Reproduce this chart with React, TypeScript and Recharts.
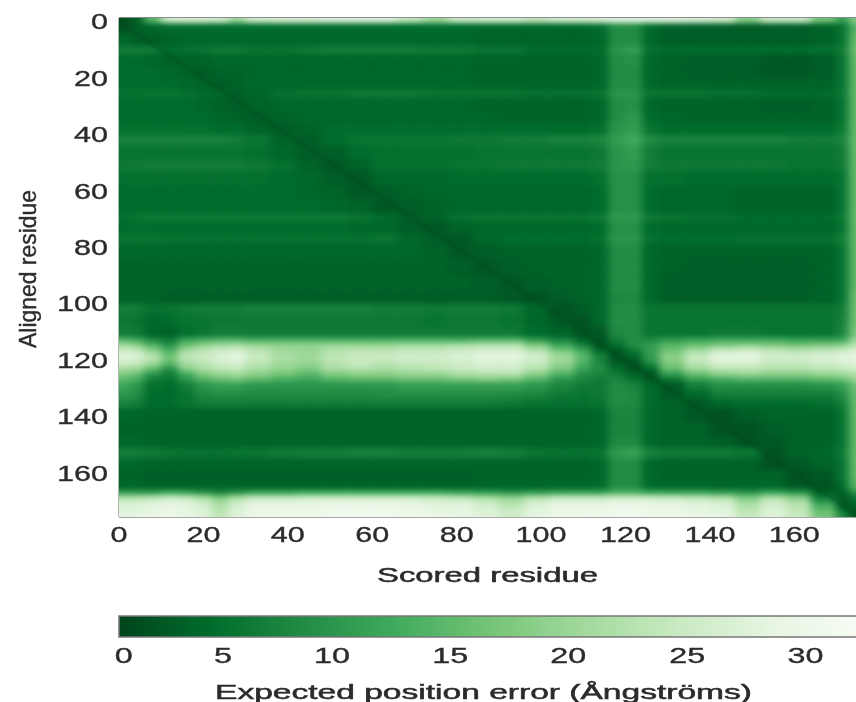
import React from "react";
import {
  ScatterChart, Scatter, XAxis, YAxis, ReferenceLine, Label,
  BarChart, Bar,
} from "recharts";

const xTicks = [0, 20, 40, 60, 80, 100, 120, 140, 160];
const yTicks = [0, 20, 40, 60, 80, 100, 120, 140, 160];
const xDomain = [0, 174.6];
const yDomain = [-1.4, 175.6];

const colEdges = [0, 3, 6, 10, 14, 18, 22, 26, 30, 36, 42, 48, 54, 60, 66, 72, 78, 84, 90, 96, 102, 108, 112, 116, 120, 124, 128, 134, 140, 146, 152, 158, 164, 170, 173, 174.6];
const rowEdges = [-1.4, 0.5, 4, 8.5, 11.5, 16, 20, 24, 27, 32, 36, 40, 44, 49, 53, 58, 63, 68, 71, 75, 79, 84, 90, 96, 100, 104, 108, 112, 114, 116, 118, 120, 122, 124, 126, 128, 131, 134, 137, 142, 147, 151, 155, 159, 163, 166, 168, 170, 172, 174, 175.6];

// expected position error, one line per row band
const paeRows = [
  [1,3,14,26,27, 27,26,20,26,27, 27,28,28,28,24, 20,25,26,26,24, 26,26,27,28,28, 28,28,27,26,18, 25,25,16,10,18],
  [1.5,2.5,3.5,4,4, 4,4,4,4,4, 4,4,4,4,4, 4,4,3.5,3.5,3.5, 3.5,3.5,4,8,8, 4,3,2.5,2.5,2.5, 2.5,2.5,3,5,14],
  [3.5,2.5,2.5,3,3.5, 3.5,3.5,3.5,3.5,3.5, 3.5,3.5,3.5,3.5,3.5, 3.5,3.5,3,3,3, 3,3,3.5,8,8, 3.5,2.5,2.5,2.5,2.5, 2.5,2.5,3,5,15],
  [6,6,5.5,4,4.5, 5,5.5,5.5,5,5, 5.5,6,6,6,6, 5.5,5.5,5,5,4, 4,4,4,9,10, 4.5,4,4,4,4, 4,4,4.5,6,16],
  [4,4,3.5,3,3, 3,3.5,3.5,3.5,3.5, 3.5,3.5,3.5,3.5,3.5, 3.5,3.5,3,3,3, 3,3,3.5,8,8.5, 3.5,3,2.5,2.5,2.5, 2,2,2.5,5,15],
  [4,4,4,3.5,3, 2.5,3,3,3.5,3.5, 3.5,3.5,3.5,3.5,3.5, 3.5,3.5,3,3,3, 3,3,3.5,8,8, 3.5,3,2.5,2.5,2.5, 2,2,2.5,5,15],
  [4,4,4,4,3.5, 3,2.5,3,3.5,3.5, 3.5,3.5,3.5,3.5,3.5, 3.5,3.5,3,3,3, 3,3,3.5,8,8, 3.5,3,3,3,3, 3,3,3,5,15],
  [4.5,4.5,5,5,4.5, 4,3.5,2.5,3.5,4.5, 5,5,5.5,5.5,5.5, 5,5,5,5,4.5, 4.5,4.5,5,9,9, 5,5,5,4.5,4.5, 4,4,4,5.5,15],
  [4,4,4,4,4, 3.5,3,2.5,3,3.5, 3.5,3.5,3.5,3.5,3.5, 3.5,3.5,3,3,3, 3,3,3.5,8,8.5, 3.5,3,3,3,3, 2.5,2.5,3,5,15],
  [4,4,4,4,4, 4,3.5,3,2.5,3, 3.5,3.5,3.5,3.5,3.5, 3.5,3.5,3.5,3,3, 3,3,3.5,8,9.5, 4,3.5,3,3,3, 3,3,3,5,15],
  [4.5,4.5,4.5,4.5,4.5, 4.5,4,4,3,2.5, 3,4,4,4,4, 4,4,4,4,4, 4,4,4.5,9,10, 5,4,4,4,4, 4,4,4,5.5,15],
  [6.5,6.5,6.5,6.5,6.5, 6.5,6.5,6,5,3, 2.5,4,5,5,5, 5,5.5,5.5,6,6, 6.5,6.5,7,10,11.5, 7.5,6.5,6.5,6.5,6.5, 6.5,6,6,7,15],
  [5,5,5,5,5, 5,5,5,4.5,3.5, 2.5,2.5,4,4.5,4.5, 4.5,4.5,5,5,5, 5,5,5.5,9,10, 6,5,5,5,5, 5,5,5,6,15],
  [5.5,5.5,6,6,6, 6,6,6,5.5,4.5, 3,2,3,4.5,4.5, 4.5,5,5,5.5,5.5, 5.5,5.5,6,9,9.5, 6,5.5,5.5,5.5,5.5, 5.5,5,5,6,15],
  [4.5,4.5,4.5,4.5,4.5, 4.5,4.5,4.5,4.5,4, 3.5,2.5,2,3.5,3.5, 3.5,4,4,4,4, 4,4,4.5,8.5,8.5, 4.5,4.5,4,4,4, 4,4,4,5,15],
  [4,4,4,4,4, 4,4,4,4,4, 3.5,3,2,2.5,3, 3.5,3.5,3.5,3.5,3.5, 3.5,3.5,4,8.5,8.5, 4,3.5,3.5,3.5,3, 3,3,3,5,15],
  [4,4,4,4,4, 4,4,4,4,4, 4,3.5,3,2,2.5, 3,3.5,3.5,3.5,3.5, 3.5,3.5,4,8.5,8.5, 4,3.5,3.5,3.5,3, 3,3,3,5,15],
  [4.5,5,5.5,5.5,5.5, 5.5,5.5,5.5,5.5,5.5, 5.5,5.5,5,4,2.5, 3,4.5,5,5,5, 5,5,5.5,9.5,9.5, 5.5,5,4.5,4.5,4, 4,4,4,5.5,15],
  [4,4,4,4,4, 4,4,4,4,4, 4,4,3.5,3.5,2.5, 2,3,3.5,3.5,3.5, 3.5,3.5,4,8.5,8.5, 4,3.5,3.5,3.5,3.5, 3.5,3.5,3.5,5,15],
  [5,5,5,4.5,4.5, 4.5,4.5,4.5,4.5,4.5, 4.5,4.5,4.5,5,3.5, 2.5,2,3.5,4,4, 4,4,4.5,9,9, 4.5,4,4,4,4.5, 4.5,4.5,4.5,6,15],
  [3.5,3.5,3.5,3.5,3.5, 3.5,3.5,3.5,3.5,3.5, 3.5,3.5,3.5,3.5,3.5, 3,2,2.5,3,3, 3,3,3.5,8,8, 3.5,3,3,3,3, 3,3,3,5,15],
  [3,3,3,3,3, 3,3,3,3,3, 3,3,3,3,3, 3,2.5,2,2.5,3, 3,3,3.5,8,8, 3.5,3,2.5,2.5,2.5, 2.5,2.5,3,5,15],
  [3,3,3,3,3, 3,3,3,3,3, 3,3,3,3,3, 3,3,2.5,2,2.5, 3,3,3.5,8,8, 3.5,2.5,2.5,2.5,2.5, 2.5,2.5,3,5,15],
  [3,3,3,2.5,2.5, 2.5,2.5,2.5,2.5,2.5, 2.5,2.5,2.5,2.5,2.5, 2.5,2.5,2.5,2,1.5, 2.5,3,3.5,7.5,7.5, 3.5,2.5,2.5,2.5,2.5, 2.5,2.5,3,5,16],
  [6,6,4.5,5,5.5, 6,6,6,6.5,6.5, 6.5,6.5,6.5,6,6, 5.5,6,6,5.5,3.5, 1.5,2.5,3.5,8,8, 5,5,5,5,5, 5,5,5,6,16],
  [5.5,5,3.5,4,5, 5,5.5,5.5,5.5,5.5, 5.5,5.5,5.5,5.5,5.5, 5,5.5,5.5,5,3.5, 2,1.5,3.5,8,8, 5,5,5,5,5, 5,5,5,6.5,16],
  [6,5.5,3.5,3,4.5, 5,6,6,5.5,5.5, 5.5,5.5,5.5,5.5,5.5, 5.5,5.5,5.5,5.5,4, 3,1.5,2,7.5,8, 5,5,5,5.5,5.5, 5,5,5,7,17],
  [14,12,8,6,11, 13,14,14,13,13, 13,13,13,13,13, 13,13,14,14,10, 7,3.5,1.5,6,8, 8,10,11,12,12, 12,11,11,12,20],
  [21,19,14,9,16, 19,21,22,20,19, 19,20,20,20,21, 21,22,23,23,18, 12,7,1.5,4,8, 10,14,16,18,19, 18,17,18,19,23],
  [25,24,19,13,21, 23,25,26,23,20, 19,22,23,23,24, 24,25,26,26,23, 17,12,4,1.5,5, 10,16,21,25,26, 24,23,24,25,27],
  [27,26,23,16,23, 24,26,28,24,21, 20,23,24,24,25, 25,26,28,28,25, 20,14,7,1.5,3, 10,18,24,28,28, 25,25,26,28,28],
  [25,24,20,14,21, 23,25,26,23,20, 19,22,24,23,24, 24,25,26,26,24, 19,13,7,2,1.5, 8,17,23,26,26, 24,24,25,26,27],
  [21,20,15,9,18, 21,23,24,21,19, 17,21,22,21,22, 23,24,25,25,22, 17,11,8,4,1.5, 4,15,20,23,23, 22,22,23,24,25],
  [17,15,9,6,12, 17,19,20,18,16, 14,17,18,18,19, 19,21,22,22,18, 13,8,7,6,3, 1.5,10,15,18,19, 18,18,19,20,22],
  [14,12,6,5,9, 13,15,16,14,12, 11,13,14,14,15, 15,16,17,16,13, 9,7,6,7,5, 2,5,10,12,13, 13,13,14,15,19],
  [11,9,4.5,4,6, 9,10,10,9,9, 9,9,9,9,10, 10,10,10,10,9, 7,5.5,5.5,8,7, 3.5,2,6,8,8, 8,8,8.5,10,16],
  [9,8,4,4,5, 7.5,8,8,7.5,7.5, 7.5,7.5,7.5,8,8, 8,8,8,7.5,7, 5.5,5,5.5,8,7.5, 4,2,3.5,6,6, 6,6,6,8,15],
  [7,6,4,4,5, 6,6,6,6,6, 6,6,6,6,6, 6,6,6,5.5,5, 4.5,4.5,5,8,7.5, 4,3,2,3.5,4, 4,4,4.5,6.5,15],
  [3.5,3.5,3,3,3, 3,3,3,3,3, 3,3,3,3,3, 3,3,3,3,3, 3,3,3.5,7,7, 3.5,3,2,1.5,2.5, 3,3,3,5,15],
  [3,3,3,3,3, 3,3,3,3,3, 3,3,3,3,3, 3,3,3,3,3, 3,3,3.5,7,7, 3.5,3,3,1.5,1.5, 2.5,3,3,5,15],
  [3.5,3.5,3,3,3, 3,3,3,3,3, 3,3,3,3,3, 3,3,3,3,3, 3,3,3.5,7.5,7.5, 3.5,3,3,2.5,1.5, 2,3,3,5,15],
  [6,6,5.5,5,4.5, 4.5,4.5,5,5,5.5, 6,6,6.5,6.5,6, 6,6,6.5,6,5, 4.5,4.5,5,9.5,10.5, 6.5,5.5,5.5,5.5,5, 1.5,3,3.5,5.5,15],
  [3.5,3.5,3,3,3, 3,3,3,3,3, 3,3,3,3,3, 3,3,3,3,3, 3,3,3.5,8,8, 3.5,3,3,3,3, 1.5,2,3,5,15],
  [3,3,2.5,2.5,2.5, 2.5,2.5,2.5,2.5,2.5, 2.5,2.5,2.5,2.5,2.5, 2.5,2.5,3,3,3, 3,3,3.5,8,8, 3.5,3,3,3,3, 3,1.5,2,5,15],
  [3.5,3.5,3,3,3, 3,3,3,3,3, 3,3,3,3,3, 3,3,3.5,3.5,3.5, 3.5,3.5,4,8,8, 4,3.5,3.5,3.5,3.5, 3.5,2,1.5,4,14],
  [10,10,10,12,11, 9,7,9,11,11, 12,12,12,12,12, 12,11,10,9,10, 11,11,11,13,13, 11,11,11,10,9, 11,9,3,2.5,9],
  [22,22,23,25,24, 21,17,21,24,24, 25,25,25,25,25, 24,23,21,19,22, 24,24,24,25,25, 25,24,23,22,17, 22,18,6,2,5],
  [26,26,27,28,27, 25,21,25,28,28, 28,29,29,29,28, 27,27,25,22,26, 28,28,28,29,29, 28,28,27,26,21, 25,22,11,1.5,4],
  [27,27,28,29,28, 26,22,26,29,29, 29,30,30,30,29, 28,28,26,24,27, 29,29,29,30,30, 29,29,28,27,22, 26,23,14,4,1.5],
  [28,28,29,29,28, 27,23,27,29,30, 30,30,30,30,30, 29,28,27,25,28, 29,30,30,30,30, 30,29,29,28,24, 27,24,16,7,1.5],
];

const diagonal = [{ x: 0, y: 0 }, { x: 174.6, y: 174.6 }];

const colorbarMax = 31.75;
const colorbarLabels = ["0", "5", "10", "15", "20", "25", "30"];
const colorbarTicks = [0.2, 4.48, 9.18, 14.27, 19.35, 24.48, 29.57];
const colorbarData = [{ name: "pae", value: colorbarMax }];

// matplotlib Greens_r
const greens = ["#00441b", "#006d2c", "#238b45", "#41ab5d", "#74c476", "#a1d99b", "#c7e9c0", "#e5f5e0", "#f7fcf5"];

const WIDTH = 856;
const PLOT_LEFT = 119;
const PLOT_TOP = 18;
const PLOT_W = 737;
const PLOT_H = 499;
const MAIN_H = 600;
const pxPerX = PLOT_W / (xDomain[1] - xDomain[0]);
const pxPerY = PLOT_H / (yDomain[1] - yDomain[0]);

const FONT = "'Liberation Sans', Arial, sans-serif";
const INK = "#2b2b2b";

function hexToRgb(h: string) {
  return [1, 3, 5].map((i) => parseInt(h.slice(i, i + 2), 16));
}

function paeColor(v: number) {
  const t = Math.min(Math.max(v / colorbarMax, 0), 1) * (greens.length - 1);
  const i = Math.min(Math.floor(t), greens.length - 2);
  const a = hexToRgb(greens[i]);
  const b = hexToRgb(greens[i + 1]);
  const mix = a.map((c, k) => Math.round(c + (b[k] - c) * (t - i)));
  return `rgb(${mix.join(",")})`;
}

const cells = paeRows.flatMap((row, r) =>
  row.map((value, c) => ({
    x: (colEdges[c] + colEdges[c + 1]) / 2,
    y: (rowEdges[r] + rowEdges[r + 1]) / 2,
    w: colEdges[c + 1] - colEdges[c],
    h: rowEdges[r + 1] - rowEdges[r],
    value,
  }))
);

function HeatCell({ cx, cy, payload }: any) {
  const w = payload.w * pxPerX;
  const h = payload.h * pxPerY;
  const fill = paeColor(payload.value);
  return <rect x={cx - w / 2} y={cy - h / 2} width={w} height={h} fill={fill} stroke={fill} strokeWidth={0.6} />;
}

function WideText({ x, y, text, length, anchor = "middle", size = 22, weight = 0.35, rotate, family = FONT }: any) {
  return (
    <text
      x={x}
      y={y}
      textAnchor={anchor}
      dominantBaseline="central"
      textLength={length}
      lengthAdjust="spacingAndGlyphs"
      fontFamily={family}
      fontSize={size}
      fill={INK}
      stroke={INK}
      strokeWidth={weight}
      transform={rotate ? `rotate(${rotate} ${x} ${y})` : undefined}
      style={{ filter: "blur(0.7px)" }}
    >
      {text}
    </text>
  );
}

function XTick({ x, payload }: any) {
  const s = String(payload.value);
  return <WideText x={x} y={534} text={s} length={s.length * 17} />;
}

function YTick({ y, payload }: any) {
  const s = String(payload.value);
  return <WideText x={108} y={y} text={s} length={s.length * 17} anchor="end" />;
}

function BarTick({ x, index }: any) {
  const s = colorbarLabels[index];
  return <WideText x={x} y={655} text={s} length={s.length * 18} />;
}

export default function App() {
  return (
    <div style={{ position: "absolute", left: 0, top: 0, width: WIDTH, height: 702, overflow: "hidden", background: "#fff" }}>
      <style>{`
        .heat-cells { filter: url(#heatBlur); }
        .heat-diag { filter: url(#diagBlur); }
      `}</style>
      <svg width={0} height={0} style={{ position: "absolute" }}>
        <defs>
          <filter id="heatBlur" filterUnits="userSpaceOnUse" x={PLOT_LEFT} y={PLOT_TOP} width={PLOT_W} height={PLOT_H} colorInterpolationFilters="sRGB">
            <feGaussianBlur stdDeviation="4.5 2.6" />
            <feComponentTransfer>
              <feFuncA type="discrete" tableValues="1 1" />
            </feComponentTransfer>
          </filter>
          <filter id="diagBlur" filterUnits="userSpaceOnUse" x={PLOT_LEFT} y={PLOT_TOP} width={PLOT_W} height={PLOT_H} colorInterpolationFilters="sRGB">
            <feGaussianBlur stdDeviation="1.2" />
          </filter>
        </defs>
      </svg>

      <ScatterChart width={WIDTH} height={MAIN_H} margin={{ top: PLOT_TOP, right: 0, bottom: 0, left: 0 }}>
        <XAxis
          type="number"
          dataKey="x"
          domain={xDomain}
          ticks={xTicks}
          interval={0}
          height={MAIN_H - PLOT_TOP - PLOT_H}
          tick={<XTick />}
          tickLine={false}
          axisLine={false}
          allowDataOverflow
        >
          <Label
            content={() => <WideText x={487.5} y={575} text="Scored residue" length={221} size={20} weight={0.5} />}
          />
        </XAxis>
        <YAxis
          type="number"
          dataKey="y"
          domain={yDomain}
          reversed
          ticks={yTicks}
          interval={0}
          width={PLOT_LEFT}
          tick={<YTick />}
          tickLine={false}
          axisLine={false}
          allowDataOverflow
        >
          <Label
            content={() => <WideText x={27} y={269} text="Aligned residue" length={158} size={24} weight={0.4} rotate={-90} family="'Liberation Sans Narrow', 'Liberation Sans', sans-serif" />}
          />
        </YAxis>
        <Scatter className="heat-cells" data={cells} shape={<HeatCell />} isAnimationActive={false} />
        <Scatter
          className="heat-diag"
          data={diagonal}
          line={{ stroke: "#00441b", strokeWidth: 3, strokeOpacity: 0.35 }}
          shape={() => null}
          isAnimationActive={false}
        />
        <ReferenceLine y={yDomain[0]} stroke="#8a8a8a" strokeWidth={2} />
        <ReferenceLine y={yDomain[1]} stroke="#8a8a8a" strokeWidth={1.5} />
        <ReferenceLine x={xDomain[0]} stroke="#9a9a9a" strokeWidth={1.5} />
      </ScatterChart>

      <div style={{ position: "absolute", left: 0, top: MAIN_H }}>
        <BarChart
          width={WIDTH + 3}
          height={102}
          layout="vertical"
          data={colorbarData}
          barCategoryGap={0}
          margin={{ top: 16, right: 0, bottom: 65, left: PLOT_LEFT }}
        >
          <defs>
            <linearGradient id="paeGradient" x1="0" y1="0" x2="1" y2="0">
              {greens.map((c, i) => (
                <stop key={c} offset={i / (greens.length - 1)} stopColor={c} />
              ))}
            </linearGradient>
          </defs>
          <XAxis
            type="number"
            domain={[0, colorbarMax]}
            ticks={colorbarTicks}
            interval={0}
            height={0}
            hide
          />
          <YAxis type="category" dataKey="name" hide />
          <Bar dataKey="value" fill="url(#paeGradient)" stroke="#777" strokeWidth={1.5} isAnimationActive={false} />
        </BarChart>
      </div>

      {/* colour bar labels */}
      <svg width={WIDTH} height={702} style={{ position: "absolute", left: 0, top: 0, pointerEvents: "none" }}>
        {colorbarTicks.map((t, i) => (
          <BarTick key={t} x={PLOT_LEFT + (t / colorbarMax) * PLOT_W} index={i} />
        ))}
        <WideText x={483.5} y={692} text="Expected position error (Ångströms)" length={537} size={20} weight={0.5} />
      </svg>
    </div>
  );
}
